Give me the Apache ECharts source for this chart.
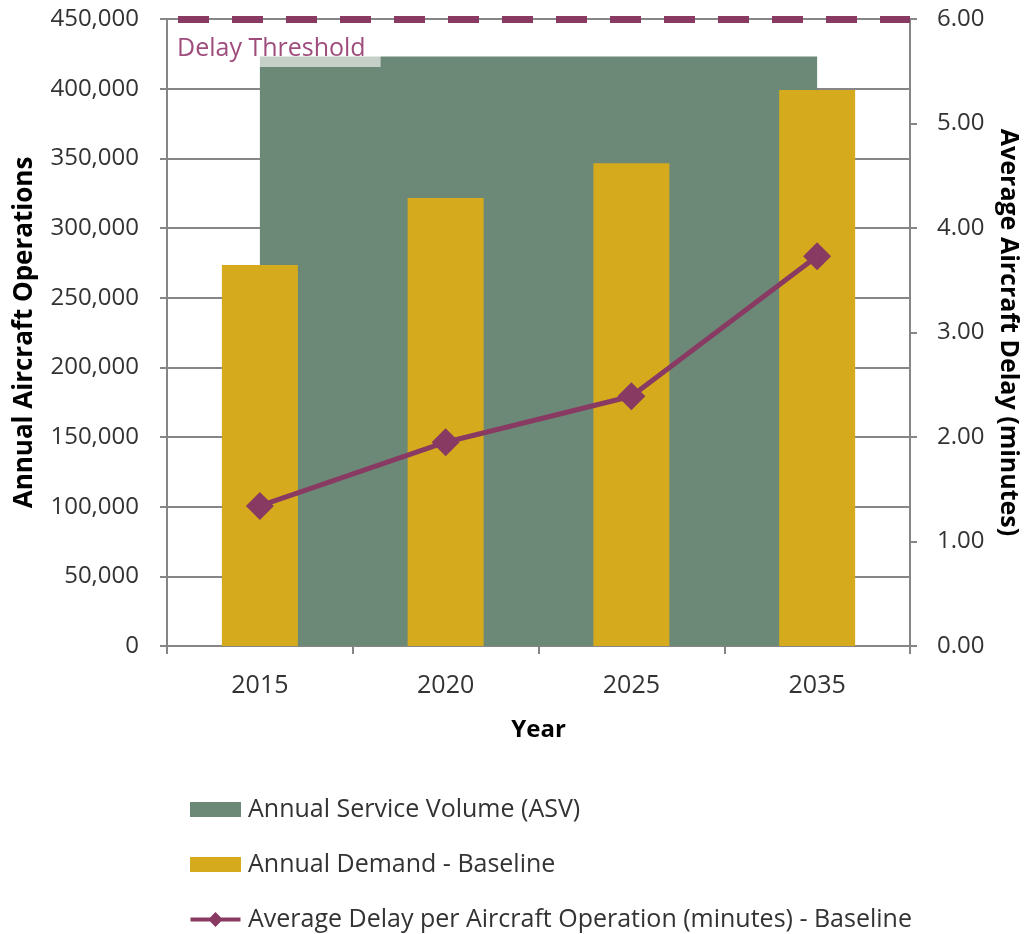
<!DOCTYPE html>
<html>
<head>
<meta charset="utf-8">
<script src="https://cdn.jsdelivr.net/npm/echarts@6/dist/echarts.min.js"></script>
<style>
  html, body { margin: 0; padding: 0; background: #fff; overflow: hidden; }
  #chart { width: 1024px; height: 934px; }
</style>
</head>
<body>
<div id="chart"></div>
<script>
// Years on the category axis
const years = ['2015', '2020', '2025', '2035'];
// Annual Service Volume (operations)
const asvValues = [423000, 423000, 423000, 423000];
// Annual demand, baseline (operations)
const demandValues = [273500, 321500, 346500, 399000];
// Average delay per operation, baseline (minutes)
const delayValues = [1.34, 1.95, 2.39, 3.73];
// Delay threshold (minutes)
const delayThreshold = 6;

const FONT = 'Open Sans';
const TEXT = '#333333';
const AXIS = '#868686';
const GREEN = '#6C8977';
const GOLD = '#D5AB1D';
const PLUM = '#883A63';

// Legend glyph for the delay series: thick line with a diamond marker
const LINE_DIAMOND_ICON =
  'path://M0,6.5L23.5,6.5L30,0L36.5,6.5L60,6.5L60,11.5L36.5,11.5L30,18L23.5,11.5L0,11.5Z';

const chart = echarts.init(document.getElementById('chart'), null, { width: 1024, height: 934 });

chart.setOption({
  animation: false,
  textStyle: { fontFamily: FONT },
  grid: {
    left: 167, right: 114, top: 19, bottom: 288,
    containLabel: false,
    outerBoundsMode: 'none'
  },
  legend: {
    orient: 'vertical',
    left: 190,
    top: 797,
    padding: 0,
    itemWidth: 51,
    itemHeight: 15,
    itemGap: 30,
    textStyle: { fontFamily: FONT, fontSize: 25, color: TEXT, padding: [0, 0, 0, 2] },
    data: [
      { name: 'Annual Service Volume (ASV)', icon: 'rect' },
      { name: 'Annual Demand - Baseline', icon: 'rect' },
      { name: 'Average Delay per Aircraft Operation (minutes) - Baseline', icon: LINE_DIAMOND_ICON }
    ]
  },
  xAxis: {
    type: 'category',
    data: years,
    boundaryGap: true,
    name: 'Year',
    nameLocation: 'middle',
    nameGap: 72,
    nameTextStyle: { fontFamily: FONT, fontSize: 24, fontWeight: 'bold', color: '#000' },
    axisLine: { lineStyle: { color: AXIS, width: 2 } },
    axisTick: { show: true, length: 8, lineStyle: { color: AXIS, width: 2 } },
    axisLabel: { fontFamily: FONT, fontSize: 25, color: TEXT, margin: 27 },
    splitLine: { show: false }
  },
  yAxis: [
    {
      type: 'value',
      min: 0,
      max: 450000,
      interval: 50000,
      name: 'Annual Aircraft Operations',
      nameLocation: 'middle',
      nameGap: 129,
      nameTextStyle: { fontFamily: FONT, fontSize: 26, fontWeight: 'bold', color: '#000' },
      axisLine: { show: true, lineStyle: { color: AXIS, width: 2 } },
      axisTick: { show: true, length: 7, lineStyle: { color: AXIS, width: 2 } },
      axisLabel: {
        fontFamily: FONT, fontSize: 24, color: TEXT, margin: 28,
        formatter: v => v.toLocaleString('en-US')
      },
      splitLine: { show: true, lineStyle: { color: AXIS, width: 2 } }
    },
    {
      type: 'value',
      min: 0,
      max: 6,
      interval: 1,
      position: 'right',
      name: 'Average Aircraft Delay (minutes)',
      nameLocation: 'middle',
      nameRotate: -90,
      nameGap: 86,
      nameTextStyle: { fontFamily: FONT, fontSize: 25, fontWeight: 'bold', color: '#000' },
      axisLine: { show: true, lineStyle: { color: AXIS, width: 2 } },
      axisTick: { show: true, length: 7, lineStyle: { color: AXIS, width: 2 } },
      axisLabel: {
        fontFamily: FONT, fontSize: 24, color: TEXT, margin: 27,
        formatter: v => v.toFixed(2)
      },
      splitLine: { show: false }
    }
  ],
  series: [
    {
      name: 'Annual Service Volume (ASV)',
      type: 'line',
      yAxisIndex: 0,
      data: asvValues,
      symbol: 'none',
      itemStyle: { color: GREEN },
      lineStyle: { width: 0, color: GREEN },
      areaStyle: { color: GREEN, opacity: 1 },
      z: 1
    },
    {
      name: 'Annual Demand - Baseline',
      type: 'bar',
      yAxisIndex: 0,
      data: demandValues,
      barWidth: 76,
      itemStyle: { color: GOLD },
      z: 2
    },
    {
      name: 'Average Delay per Aircraft Operation (minutes) - Baseline',
      type: 'line',
      yAxisIndex: 1,
      data: delayValues,
      symbol: 'diamond',
      symbolSize: 28,
      itemStyle: { color: PLUM },
      lineStyle: { color: PLUM, width: 5 },
      z: 3,
      markLine: {
        silent: true,
        symbol: 'none',
        data: [{ yAxis: delayThreshold }],
        lineStyle: { color: PLUM, width: 7, type: [31, 23], dashOffset: 43 },
        label: {
          show: true,
          formatter: 'Delay Threshold',
          position: 'insideStartBottom',
          distance: 7,
          fontFamily: FONT,
          fontSize: 25,
          color: '#9E4C7C',
          backgroundColor: 'rgba(255,255,255,0.6)',
          padding: [10, 15, 6, 3]
        },
        emphasis: { disabled: true }
      }
    }
  ]
});
</script>
</body>
</html>
